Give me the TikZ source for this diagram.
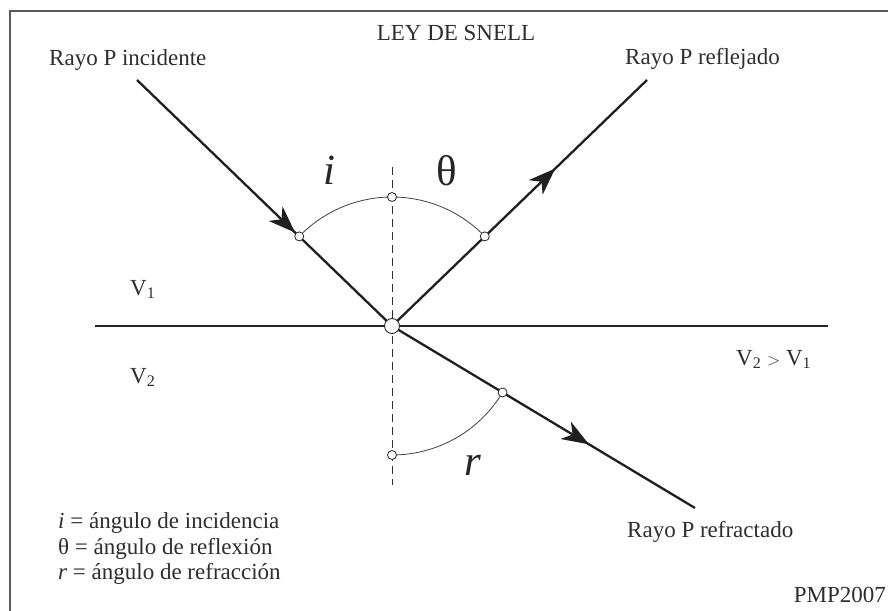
\documentclass[tikz,border=0pt]{standalone}
\usepackage{fontspec}
\setmainfont{Liberation Serif}
\usetikzlibrary{arrows.meta,decorations.markings,calc}
\begin{document}
\begin{tikzpicture}[x=1pt,y=1pt,
  ray/.style={line width=2.3pt, black!88},
  lbl/.style={font=\fontsize{23}{25}\selectfont, text=black!82, inner sep=0pt},
  big/.style={font=\fontsize{43}{45}\selectfont, text=black!85, inner sep=0pt},
  dot/.style={circle, draw=black!85, fill=white, line width=0.8pt, minimum size=9pt, inner sep=0pt},
  odot/.style={circle, draw=black!85, fill=white, line width=0.9pt, minimum size=15pt, inner sep=0pt},
  arcline/.style={line width=0.8pt, black!75},
  normal/.style={line width=0.9pt, black!80, dash pattern=on 8pt off 5pt},
  tipmark/.style={postaction={decorate}, decoration={markings, mark=at position #1 with {\arrow{Stealth[length=27pt,width=20pt,inset=8pt]}}}}
]
\useasboundingbox (0,0) rectangle (888,-610);
\clip (0,0) rectangle (888,-610);
\fill[white] (0,0) rectangle (888,-610);
% frame
\draw[line width=1.2pt, black!65] (10,-11) rectangle (900,-625);

% coordinates
\coordinate (o) at (392,-326);
\coordinate (inc) at (137,-80);
\coordinate (refl) at (647,-80);
\coordinate (refr) at (695,-508);
\coordinate (ifl) at (95,-326);
\coordinate (ifr) at (828,-326);
\coordinate (nt) at (392,-167);
\coordinate (nb) at (392,-485);

% interface and normal
\draw[line width=2.4pt, black!85] (ifl) -- (ifr);
\draw[normal] (nt) -- (nb);

% arcs
\draw[arcline] (o) ++(44:129) arc[start angle=44, end angle=136, radius=129];
\draw[arcline] (o) ++(-90:129) arc[start angle=-90, end angle=-31, radius=129];

% rays
\draw[ray, tipmark=0.62] (inc) -- (o);
\draw[ray, tipmark=0.64] (o) -- (refl);
\draw[ray, tipmark=0.65] (o) -- (refr);

% points
\node[dot] (pi) at ($(o)+(136:129)$) {};
\node[dot] (pt) at ($(o)+(90:129)$) {};
\node[dot] (pr) at ($(o)+(44:129)$) {};
\node[dot] (pf) at ($(o)+(-31:129)$) {};
\node[dot] (pb) at ($(o)+(-90:129)$) {};
\node[odot] (oc) at (o) {};

% labels
\node[lbl, anchor=base] (title) at (456,-41) {LEY DE SNELL};
\node[lbl, anchor=base west] (linc) at (49,-65) {Rayo P incidente};
\node[lbl, anchor=base west] (lrefl) at (625,-64) {Rayo P reflejado};
\node[lbl, anchor=base west] (lrefr) at (627,-537) {Rayo P refractado};
\node[lbl, anchor=base west] (v1) at (130,-295) {V\textsubscript{1}};
\node[lbl, anchor=base west] (v2) at (130,-383) {V\textsubscript{2}};
\node[lbl, anchor=base west] (vv) at (736,-365) {V\textsubscript{2} {\fontsize{19}{20}\selectfont$>$} V\textsubscript{1}};
\node[big] (li) at (329,-170) {\itshape i};
\node[big] (lt) at (447,-171) {θ};
\node[big] (lr) at (473,-465) {\itshape r};
\node[lbl, anchor=base west] (g1) at (58,-528) {\textit{i} = ángulo de incidencia};
\node[lbl, anchor=base west] (g2) at (58,-554) {θ = ángulo de reflexión};
\node[lbl, anchor=base west] (g3) at (58,-579) {\textit{r} = ángulo de refracción};
\node[lbl, anchor=base east] (pmp) at (886,-602) {PMP2007};
\end{tikzpicture}
\end{document}
